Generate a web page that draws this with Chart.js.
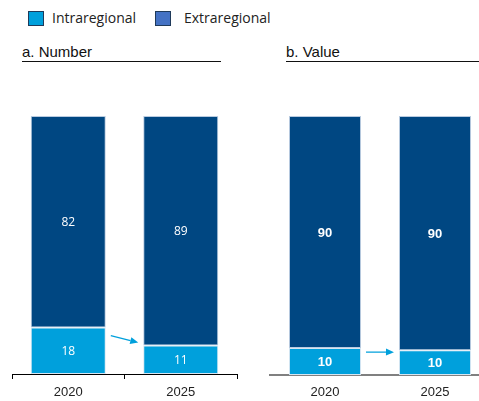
<!DOCTYPE html>
<html><head><meta charset="utf-8">
<script src="https://cdn.jsdelivr.net/npm/chart.js@4.4.1/dist/chart.umd.min.js"></script>
<style>
html,body{margin:0;padding:0;background:#fff;overflow:hidden;width:479px;height:401px;}
.abs{position:absolute;}
.leg{font-family:"Open Sans",sans-serif;font-size:14px;color:#222;}
.sw{position:absolute;width:14px;height:13px;border:1px solid #1f3a5a;}
.title{font-family:"Liberation Sans Narrow","Arial Narrow",sans-serif;font-size:15px;color:#111;border-bottom:1.5px solid #111;line-height:18px;}
</style></head>
<body>
<div class="sw" style="left:28px;top:11px;background:#00a0dc"></div>
<div class="abs leg" style="left:52px;top:8px">Intraregional</div>
<div class="sw" style="left:155px;top:11px;background:#4472c4"></div>
<div class="abs leg" style="left:184px;top:8px">Extraregional</div>
<div class="abs title" style="left:22px;top:43px;width:199px">a. Number</div>
<div class="abs title" style="left:286px;top:43px;width:193px">b. Value</div>
<div class="abs" style="left:0;top:70px;width:240px;height:331px"><canvas id="c1"></canvas></div>
<div class="abs" style="left:250px;top:70px;width:250px;height:331px"><canvas id="c2"></canvas></div>
<script>
const years = ["2020", "2025"];
const numberIntra = [18, 11];
const numberExtra = [82, 89];
const valueIntra = [10.4, 9.6];
const valueExtra = [89.6, 90.4];
const valueLabelsIntra = ["10", "10"];
const valueLabelsExtra = ["90", "90"];

const LIGHT = "#00a0dc", DARK = "#004782";

const labelPlugin = {
  id: "segLabels",
  afterDatasetsDraw(chart, args, opts) {
    const ctx = chart.ctx;
    ctx.save();
    ctx.fillStyle = "#fff";
    ctx.font = opts.font;
    ctx.textAlign = "center";
    ctx.textBaseline = "middle";
    chart.data.datasets.forEach((ds, di) => {
      const meta = chart.getDatasetMeta(di);
      meta.data.forEach((bar, i) => {
        const txt = ds.labelsText ? ds.labelsText[i] : String(ds.data[i]);
        ctx.fillText(txt, bar.x, (bar.y + bar.base) / 2 + 1);
      });
    });
    ctx.restore();
  }
};

const arrowPlugin = {
  id: "arrow",
  afterDatasetsDraw(chart, args, opts) {
    const meta = chart.getDatasetMeta(0);
    const b0 = meta.data[0], b1 = meta.data[1];
    const w0 = b0.width / 2, w1 = b1.width / 2;
    const x1 = b0.x + w0 + 5, x2 = b1.x - w1 - 5;
    const y1 = b0.y + opts.dy1, y2 = b1.y + opts.dy2;
    const ctx = chart.ctx;
    ctx.save();
    ctx.strokeStyle = LIGHT; ctx.fillStyle = LIGHT; ctx.lineWidth = 1.2;
    const ang = Math.atan2(y2 - y1, x2 - x1);
    const hl = 8, hw = 3.5;
    const bx = x2 - hl * Math.cos(ang), by = y2 - hl * Math.sin(ang);
    ctx.beginPath(); ctx.moveTo(x1, y1); ctx.lineTo(bx, by); ctx.stroke();
    ctx.beginPath();
    ctx.moveTo(x2, y2);
    ctx.lineTo(bx - hw * Math.sin(ang), by + hw * Math.cos(ang));
    ctx.lineTo(bx + hw * Math.sin(ang), by - hw * Math.cos(ang));
    ctx.closePath(); ctx.fill();
    ctx.restore();
  }
};

function makeChart(id, intra, extra, cfg) {
  return new Chart(document.getElementById(id), {
    type: "bar",
    data: {
      labels: years,
      datasets: [
        { label: "Intraregional", data: intra, backgroundColor: LIGHT, borderColor: "#d6e6f2", borderWidth: 1, borderSkipped: false, labelsText: cfg.lblIntra, barPercentage: 1, categoryPercentage: cfg.cat },
        { label: "Extraregional", data: extra, backgroundColor: DARK, borderColor: "#b9cbe0", borderWidth: 1, borderSkipped: false, labelsText: cfg.lblExtra, barPercentage: 1, categoryPercentage: cfg.cat }
      ]
    },
    options: {
      responsive: true, maintainAspectRatio: false, animation: false,
      layout: { padding: cfg.pad },
      plugins: { legend: { display: false }, tooltip: { enabled: false },
        segLabels: { font: cfg.labelFont },
        arrow: { dy1: cfg.dy1, dy2: cfg.dy2 } },
      scales: {
        x: { stacked: true,
          afterFit(s) { s.height = cfg.axisH; },
          grid: cfg.grid, border: cfg.border,
          ticks: { color: "#222", padding: cfg.tickPad, font: { family: "'Liberation Sans Narrow','Arial Narrow',sans-serif", size: 13 } } },
        y: { stacked: true, display: false, min: 0, max: 100 }
      }
    },
    plugins: [labelPlugin, arrowPlugin]
  });
}

makeChart("c1", numberIntra, numberExtra, {
  cat: 0.667, pad: { top: 46, bottom: 0, left: 12, right: 3 }, axisH: 27, tickPad: 6,
  labelFont: "12px 'Open Sans', sans-serif",
  dy1: 8, dy2: -3,
  grid: { drawOnChartArea: false, drawTicks: true, tickLength: 5, color: "#000", lineWidth: 1, offset: true },
  border: { display: true, color: "#000", width: 1 }
});
makeChart("c2", valueIntra, valueExtra, {
  cat: 0.655, pad: { top: 46, bottom: 0, left: 20, right: 10 }, axisH: 26, tickPad: 10,
  lblIntra: valueLabelsIntra, lblExtra: valueLabelsExtra,
  labelFont: "bold 13px 'Liberation Sans Narrow','Arial Narrow',sans-serif",
  dy1: 4, dy2: 2,
  grid: { drawOnChartArea: false, drawTicks: false },
  border: { display: true, color: "#808080", width: 2 }
});
</script>
</body></html>
